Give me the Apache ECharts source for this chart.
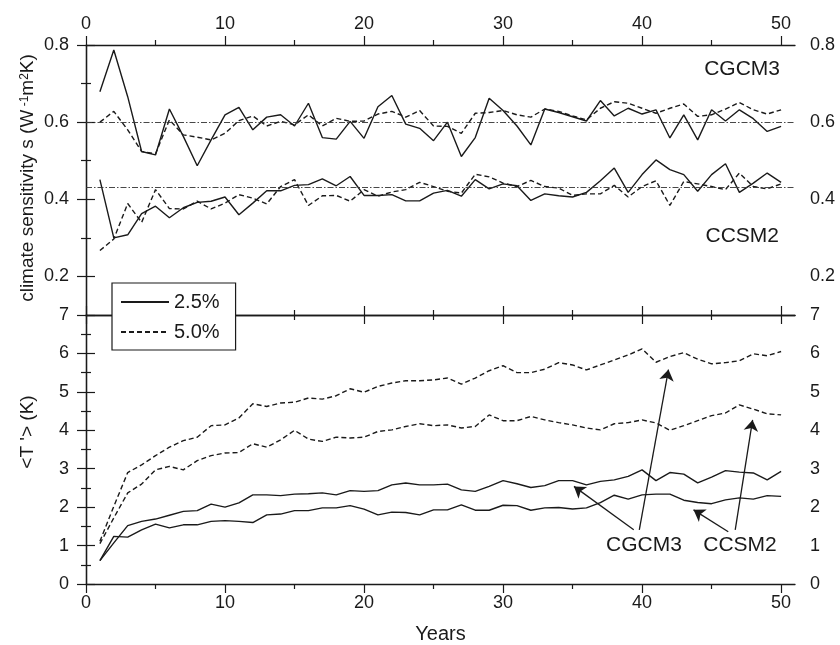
<!DOCTYPE html>
<html>
<head>
<meta charset="utf-8">
<script src="https://cdn.jsdelivr.net/npm/echarts@6/dist/echarts.min.js"></script>
<style>
html,body{margin:0;padding:0;background:#fff;}
#c{width:840px;height:645px;}
</style>
</head>
<body>
<div id="c"></div>
<script>
// ---------- data ----------
const YEARS = [1,2,3,4,5,6,7,8,9,10,11,12,13,14,15,16,17,18,19,20,21,22,23,24,25,26,27,28,29,30,31,32,33,34,35,36,37,38,39,40,41,42,43,44,45,46,47,48,49,50];

// climate sensitivity s (top panel)
const S_CGCM3_25 = [0.679,0.787,0.666,0.524,0.515,0.634,0.563,0.487,0.554,0.619,0.638,0.580,0.613,0.619,0.590,0.649,0.560,0.556,0.602,0.558,0.640,0.669,0.595,0.584,0.552,0.600,0.511,0.560,0.662,0.630,0.590,0.541,0.634,0.625,0.614,0.603,0.656,0.616,0.636,0.621,0.632,0.559,0.619,0.554,0.632,0.603,0.632,0.609,0.576,0.589];
const S_CGCM3_50 = [0.600,0.628,0.580,0.524,0.518,0.606,0.567,0.561,0.554,0.571,0.604,0.616,0.590,0.602,0.593,0.619,0.590,0.610,0.602,0.603,0.621,0.628,0.613,0.630,0.590,0.589,0.571,0.623,0.625,0.630,0.619,0.613,0.634,0.628,0.616,0.606,0.636,0.653,0.649,0.636,0.623,0.636,0.647,0.615,0.619,0.634,0.651,0.632,0.621,0.632];
const S_CCSM2_25 = [0.451,0.300,0.308,0.363,0.382,0.352,0.378,0.392,0.395,0.406,0.360,0.390,0.422,0.422,0.436,0.438,0.453,0.435,0.459,0.410,0.410,0.412,0.396,0.396,0.416,0.423,0.408,0.451,0.427,0.440,0.435,0.397,0.414,0.409,0.406,0.418,0.448,0.481,0.418,0.464,0.502,0.477,0.464,0.421,0.464,0.492,0.418,0.442,0.468,0.444];
const S_CCSM2_50 = [0.267,0.297,0.389,0.340,0.425,0.376,0.375,0.395,0.375,0.390,0.412,0.403,0.388,0.433,0.451,0.384,0.409,0.410,0.395,0.425,0.408,0.419,0.425,0.444,0.433,0.421,0.416,0.465,0.458,0.442,0.433,0.449,0.433,0.429,0.410,0.414,0.414,0.436,0.406,0.433,0.448,0.384,0.446,0.440,0.433,0.425,0.468,0.433,0.427,0.440];

// global mean temperature change <T'> (bottom panel)
const T_CGCM3_25 = [0.61,1.07,1.52,1.63,1.69,1.79,1.89,1.91,2.08,2.00,2.11,2.32,2.32,2.30,2.34,2.35,2.37,2.32,2.43,2.41,2.43,2.58,2.63,2.58,2.58,2.60,2.45,2.41,2.54,2.69,2.61,2.51,2.56,2.69,2.69,2.58,2.67,2.71,2.80,2.97,2.69,2.90,2.86,2.63,2.78,2.95,2.91,2.89,2.71,2.93];
const T_CGCM3_50 = [1.11,2.02,2.90,3.10,3.34,3.56,3.73,3.82,4.12,4.14,4.32,4.69,4.62,4.71,4.73,4.84,4.81,4.90,5.08,4.99,5.14,5.23,5.29,5.29,5.31,5.36,5.20,5.36,5.55,5.68,5.50,5.50,5.59,5.76,5.70,5.57,5.70,5.83,5.96,6.12,5.77,5.92,6.02,5.85,5.73,5.76,5.81,5.99,5.94,6.05];
const T_CCSM2_25 = [0.61,1.24,1.22,1.41,1.56,1.46,1.54,1.54,1.63,1.65,1.63,1.60,1.80,1.82,1.91,1.91,1.98,1.98,2.04,1.95,1.80,1.87,1.86,1.80,1.93,1.93,2.06,1.92,1.92,2.05,2.04,1.92,1.98,1.99,1.95,1.98,2.12,2.31,2.21,2.32,2.34,2.34,2.18,2.12,2.09,2.19,2.24,2.21,2.30,2.28];
const T_CCSM2_50 = [1.05,1.72,2.37,2.60,2.97,3.06,2.97,3.21,3.34,3.41,3.42,3.65,3.56,3.75,4.00,3.77,3.71,3.82,3.80,3.82,3.97,4.01,4.10,4.17,4.12,4.14,4.06,4.10,4.40,4.25,4.25,4.36,4.27,4.20,4.14,4.06,4.01,4.17,4.20,4.27,4.19,4.00,4.12,4.25,4.38,4.45,4.66,4.55,4.43,4.40];

// reference (mean) sensitivity levels
const REF_LEVELS = [0.6, 0.435];

// axis ticks / labels
const X_LABELS = [0,10,20,30,40,50];
const X_MINOR = [5,15,25,35,45];
const S_LABELS = [0.2,0.4,0.6,0.8];
const S_MINOR = [0.3,0.5,0.7];

const LEGEND_NAMES = ['2.5%','5.0%'];

// annotation arrows in data coordinates of the lower panel [from, to]
const ARROWS = [
  [[39.4,1.41],[35.1,2.54]],
  [[39.8,1.41],[41.9,5.58]],
  [[46.2,1.36],[43.7,1.93]],
  [[46.7,1.41],[47.95,4.27]]
];

// ---------- chart ----------
const FONT = '"Liberation Sans", Arial, Helvetica, sans-serif';
const INK = '#1a1a1a';
const chart = echarts.init(document.getElementById('c'), null, {renderer:'canvas'});

function pairs(arr){ return YEARS.map((y,i)=>[y, arr[i]]); }

const axisLine = {show:true, lineStyle:{color:INK, width:1.3}};
function xAxis(grid, pos, major, labels, extra){
  return Object.assign({
    type:'value', gridIndex:grid, position:pos, min:0, max:51,
    axisLine: major ? axisLine : {show:false},
    axisTick:{show:true, inside:false, length: major?9:5, customValues: major?X_LABELS:X_MINOR, lineStyle:{color:INK,width:1.2}},
    axisLabel:{show:labels, customValues:X_LABELS, fontSize:18, fontFamily:FONT, color:INK, margin: pos==='top'?12:10},
    splitLine:{show:false}
  }, extra||{});
}
function yAxisTop(pos, major){
  return {
    type:'value', gridIndex:0, position:pos, min:0.1, max:0.8,
    axisLine: major ? axisLine : {show:false},
    axisTick:{show:true, inside:false, length: major?9:5, customValues: major?S_LABELS:S_MINOR, lineStyle:{color:INK,width:1.2}},
    axisLabel:{show:major, customValues:S_LABELS, fontSize:18, fontFamily:FONT, color:INK, margin: pos==='left'?17:15},
    splitLine:{show:false}
  };
}
function yAxisBot(pos){
  return {
    type:'value', gridIndex:1, position:pos, min:0, max:7, interval:1,
    axisLine: axisLine,
    axisTick:{show:true, inside:false, length:9, lineStyle:{color:INK,width:1.2}},
    minorTick:{show:true, splitNumber:2, length:5, lineStyle:{color:INK,width:1.2}},
    axisLabel:{fontSize:18, fontFamily:FONT, color:INK, margin: pos==='left'?17:15},
    splitLine:{show:false}, minorSplitLine:{show:false}
  };
}

const solid = {color:INK, width:1.4, type:'solid'};
const dashed = {color:INK, width:1.4, type:[5,3]};

function line(name, xi, yi, arr, style, extra){
  return Object.assign({
    type:'line', name:name, xAxisIndex:xi, yAxisIndex:yi, data:pairs(arr),
    showSymbol:false, symbol:'none', lineStyle:style, itemStyle:{color:INK},
    silent:true, z:3
  }, extra||{});
}

const dashDot = {color:'#333', width:0.9, type:[6,2,1.5,2]};

const option = {
  animation:false,
  backgroundColor:'#fff',
  textStyle:{fontFamily:FONT},
  grid:[
    {left:86, right:45, top:45, height:270},
    {left:86, right:45, top:315, height:269.3}
  ],
  xAxis:[
    xAxis(0,'top',true,true),
    xAxis(0,'top',false,false),
    xAxis(0,'bottom',true,false),
    xAxis(0,'bottom',false,false),
    xAxis(1,'bottom',true,true,{name:'Years', nameLocation:'middle', nameGap:40, nameTextStyle:{fontSize:20, fontFamily:FONT, color:INK}}),
    xAxis(1,'bottom',false,false),
    xAxis(1,'top',true,false),
    xAxis(1,'top',false,false)
  ],
  yAxis:[
    yAxisTop('left',true),
    yAxisTop('left',false),
    yAxisTop('right',true),
    yAxisTop('right',false),
    yAxisBot('left'),
    yAxisBot('right')
  ],
  legend:{
    data:LEGEND_NAMES, orient:'vertical', left:112, top:283,
    backgroundColor:'#fff', borderColor:INK, borderWidth:1.2, borderRadius:0,
    padding:[9,16,8,8], itemWidth:48, itemHeight:16, itemGap:10,
    itemStyle:{color:'rgba(0,0,0,0)', borderColor:'rgba(0,0,0,0)', borderWidth:0, opacity:0},
    textStyle:{fontSize:20, fontFamily:FONT, color:INK}, z:10, selectedMode:false
  },
  series:[
    line('2.5%',0,0,S_CGCM3_25,solid,{markLine:{silent:true, symbol:'none', label:{show:false}, lineStyle:dashDot, data:REF_LEVELS.map(v=>({yAxis:v}))}}),
    line('5.0%',0,0,S_CGCM3_50,dashed),
    line('2.5%',0,0,S_CCSM2_25,solid),
    line('5.0%',0,0,S_CCSM2_50,dashed),
    line('2.5%',4,4,T_CGCM3_25,solid,{markLine:{silent:true, symbol:['none','arrow'], symbolSize:11, label:{show:false}, itemStyle:{color:INK}, lineStyle:{color:INK,width:1.3,type:'solid'}, data:ARROWS.map(a=>[{coord:a[0]},{coord:a[1]}])}}),
    line('5.0%',4,4,T_CGCM3_50,dashed),
    line('2.5%',4,4,T_CCSM2_25,solid),
    line('5.0%',4,4,T_CCSM2_50,dashed)
  ],
  graphic:[
    {type:'text', x:780, y:69, style:{text:'CGCM3', font:'21px '+FONT, fill:INK, align:'right', verticalAlign:'middle'}},
    {type:'text', x:779, y:236, style:{text:'CCSM2', font:'21px '+FONT, fill:INK, align:'right', verticalAlign:'middle'}},
    {type:'text', x:644, y:545, style:{text:'CGCM3', font:'21px '+FONT, fill:INK, align:'center', verticalAlign:'middle'}},
    {type:'text', x:740, y:545, style:{text:'CCSM2', font:'21px '+FONT, fill:INK, align:'center', verticalAlign:'middle'}},
    {type:'text', x:28, y:178, rotation:Math.PI/2, style:{text:'climate sensitivity s (W{s| -1}m{s|2}K)', font:'19px '+FONT, fill:INK, align:'center', verticalAlign:'middle', rich:{s:{fontSize:12, fontFamily:FONT, fill:INK, verticalAlign:'top'}}}},
    {type:'text', x:28, y:432, rotation:Math.PI/2, style:{text:"<T '> (K)", font:'19px '+FONT, fill:INK, align:'center', verticalAlign:'middle'}}
  ]
};
chart.setOption(option);
</script>
</body>
</html>
